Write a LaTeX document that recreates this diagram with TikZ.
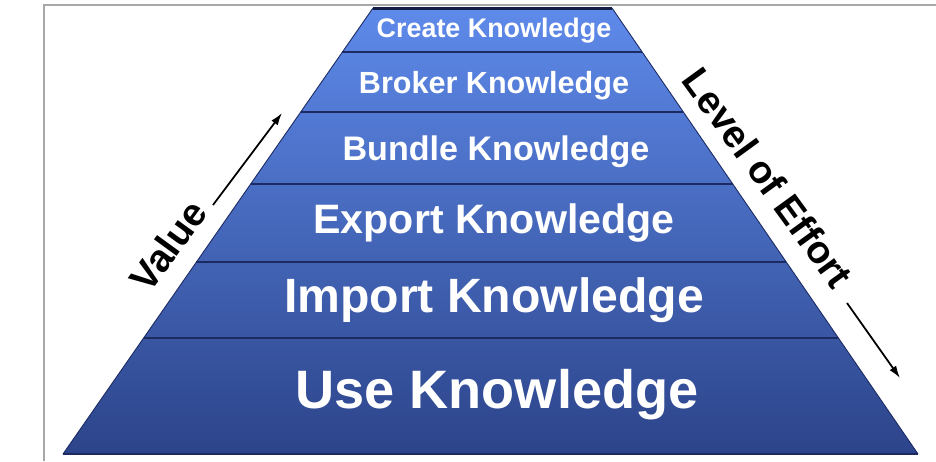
\documentclass[tikz,border=0pt]{standalone}
\usepackage{fontspec}
\setmainfont{Liberation Sans}
\usepackage{tikz}
\usetikzlibrary{calc, arrows.meta}
\definecolor{pyrtop}{RGB}{94,138,234}
\definecolor{pyrbot}{RGB}{44,68,138}
\definecolor{pyrline}{RGB}{28,42,98}
\definecolor{framegray}{RGB}{168,168,168}
\tikzset{
        x=0.02cm, y=-0.02cm, % one unit = one pixel of the original, y downwards
        layer/.style={text=white, anchor=base, font=\bfseries\fontsize{#1}{#1}\selectfont}, % text of a level
        divider/.style={draw=pyrline, line width=1.2pt}, % line between two levels
    }
\tikzstyle{sidelabel}=[anchor=base, font=\bfseries\fontsize{22}{22}\selectfont]
\tikzstyle{sidearrow}=[-{Latex[length=7pt,width=4.5pt]}, line width=1pt]

\begin{document}
\begin{tikzpicture}
    \useasboundingbox (0,0) rectangle (936,461);
    % frame
    \draw[framegray, line width=1.2pt] (44,461) |- (936,5);

    % pyramid corners
    \coordinate (tl) at (373,8);
    \coordinate (tr) at (612,8);
    \coordinate (bl) at (63,454);
    \coordinate (br) at (918,454);

    \shade[top color=pyrtop, bottom color=pyrbot] (tl) -- (tr) -- (br) -- (bl) -- cycle;
    \draw[pyrline, line width=0.5pt] (tl) -- (bl) (tr) -- (br);
    \draw[pyrline!70!black, line width=1.7pt] (tl) -- (tr);
    \draw[divider] (bl) -- (br);
    \foreach \yy in {52,112,184,262,338} {
        \pgfmathsetmacro\tpos{(\yy-8)/446}
        \draw[divider] ($(tl)!\tpos!(bl)$) -- ($(tr)!\tpos!(br)$);
    }

    % levels
    \node[layer=15.3] (create) at (494,37) {Create Knowledge};
    \node[layer=17.4] (broker) at (494,93) {Broker Knowledge};
    \node[layer=19.4] (bundle) at (496,160) {Bundle Knowledge};
    \node[layer=23.4] (export) at (494,233) {Export Knowledge};
    \node[layer=27.4] (import) at (494,312) {Import Knowledge};
    \node[layer=30.8] (use) at (497,408) {Use Knowledge};

    % side labels
    \node[sidelabel, rotate=54] (value) at (179,254) {Value};
    \coordinate (value0) at (213,205);
    \coordinate (value1) at (282,113);
    \draw[sidearrow] (value0) -- (value1);

    \node[sidelabel, rotate=-54] (effort) at (757,186) {Level of Effort};
    \coordinate (effort0) at (847,303);
    \coordinate (effort1) at (900,378);
    \draw[sidearrow] (effort0) -- (effort1);
\end{tikzpicture}
\end{document}
